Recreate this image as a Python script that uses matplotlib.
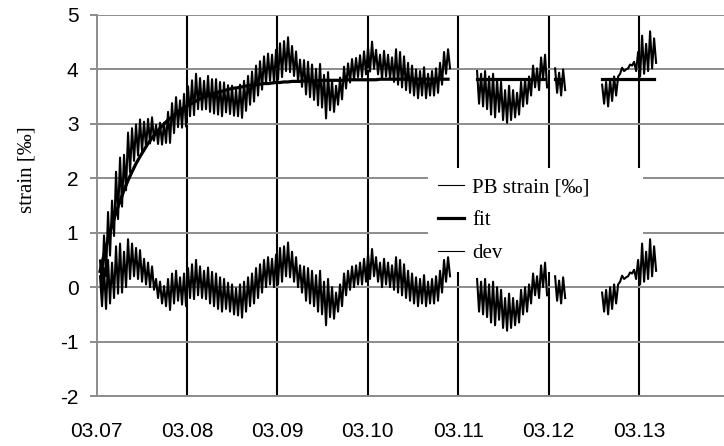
import numpy as np
import matplotlib.pyplot as plt

plt.rcParams['font.family'] = ['Liberation Sans', 'DejaVu Sans']
plt.rcParams['axes.unicode_minus'] = False

year_ticks = [2007, 2008, 2009, 2010, 2011, 2012, 2013]
year_labels = ['03.07', '03.08', '03.09', '03.10', '03.11', '03.12', '03.13']

# each measured stretch: time span (decimal years), upper / lower swing of
# the deviation from the fit, and the fit value at the same samples
seg1_span = (2007.039, 2010.910)
seg1_hi = [0.20, 0.35, 0.50, 0.45, 0.75, 0.80, 0.65, 0.88, 0.80, 0.72, 0.68, 0.52,
           0.45, 0.38, 0.15, 0.10, 0.02, 0.15, 0.25, 0.30, 0.18, 0.25, 0.35, 0.42,
           0.50, 0.38, 0.30, 0.36, 0.28, 0.25, 0.18, 0.15, 0.08, 0.05, -0.02, 0.05,
           0.10, 0.18, 0.25, 0.35, 0.42, 0.50, 0.55, 0.52, 0.60, 0.72, 0.75, 0.82,
           0.65, 0.55, 0.40, 0.38, 0.35, 0.30, 0.22, 0.30, 0.10, 0.15, 0.00, -0.10,
           0.05, 0.25, 0.30, 0.38, 0.40, 0.45, 0.52, 0.60, 0.70, 0.55, 0.45, 0.52,
           0.45, 0.40, 0.55, 0.50, 0.42, 0.30, 0.25, 0.18, 0.15, 0.22, 0.10, 0.15,
           0.20, 0.30, 0.50, 0.55]
seg1_lo = [-0.35, -0.40, -0.30, -0.20, -0.12, -0.10, 0.00, 0.15, 0.20, 0.15, 0.10, 0.05,
           0.00, -0.05, -0.20, -0.30, -0.35, -0.42, -0.30, -0.25, -0.32, -0.35, -0.20, -0.22,
           -0.15, -0.20, -0.22, -0.30, -0.35, -0.40, -0.45, -0.40, -0.45, -0.50, -0.52, -0.56,
           -0.45, -0.35, -0.30, -0.20, -0.10, 0.00, 0.05, 0.00, 0.05, 0.10, 0.20, 0.18,
           0.10, 0.00, -0.10, -0.25, -0.30, -0.35, -0.45, -0.50, -0.70, -0.55, -0.58, -0.45,
           -0.35, -0.15, -0.05, 0.00, 0.05, 0.05, 0.10, 0.15, 0.20, 0.10, 0.00, 0.05,
           0.00, -0.05, -0.10, -0.15, -0.20, -0.25, -0.30, -0.35, -0.30, -0.35, -0.30, -0.30,
           -0.25, -0.10, 0.10, 0.20]
seg1_fit = [0.29, 0.60, 0.88, 1.14, 1.37, 1.58, 1.78, 1.96, 2.12, 2.27, 2.40, 2.52,
            2.64, 2.74, 2.83, 2.92, 3.00, 3.07, 3.13, 3.19, 3.25, 3.30, 3.34, 3.38,
            3.42, 3.46, 3.49, 3.52, 3.54, 3.57, 3.59, 3.61, 3.63, 3.65, 3.66, 3.67,
            3.69, 3.70, 3.71, 3.72, 3.73, 3.74, 3.74, 3.75, 3.76, 3.76, 3.77, 3.77,
            3.78, 3.78, 3.78, 3.79, 3.79, 3.79, 3.79, 3.80, 3.80, 3.80, 3.80, 3.80,
            3.80, 3.80, 3.81, 3.81, 3.81, 3.81, 3.81, 3.81, 3.81, 3.81, 3.82, 3.82,
            3.82, 3.82, 3.82, 3.82, 3.82, 3.82, 3.82, 3.82, 3.82, 3.82, 3.82, 3.82,
            3.82, 3.82, 3.82, 3.82]

seg2_span = (2011.209, 2011.983)
seg2_hi = [0.15, 0.10, 0.15, 0.05, 0.10, 0.00, -0.05, -0.20, -0.12, -0.20, -0.25, -0.05,
           0.00, 0.05, 0.25, 0.20, 0.40, 0.45]
seg2_lo = [-0.45, -0.50, -0.55, -0.65, -0.70, -0.60, -0.75, -0.80, -0.75, -0.70, -0.65, -0.50,
           -0.45, -0.30, -0.15, -0.20, 0.00, -0.15]
seg2_fit = [3.82] * 18

seg3_span = (2012.072, 2012.183)
seg3_hi = [0.20, 0.12, 0.18]
seg3_lo = [-0.25, -0.30, -0.20]
seg3_fit = [3.82] * 3

seg4_span = (2012.592, 2013.189)
seg4_hi = [-0.10, -0.05, 0.00, 0.05, 0.05, 0.21, 0.18, 0.27, 0.32, 0.50, 0.80, 0.65, 0.88, 0.75]
seg4_lo = [-0.45, -0.50, -0.40, -0.30, 0.10, 0.15, 0.20, 0.25, 0.15, 0.05, 0.10, 0.15, 0.20, 0.30]
seg4_fit = [3.82] * 14

segments = [
    (seg1_span, seg1_hi, seg1_lo, seg1_fit),
    (seg2_span, seg2_hi, seg2_lo, seg2_fit),
    (seg3_span, seg3_hi, seg3_lo, seg3_fit),
    (seg4_span, seg4_hi, seg4_lo, seg4_fit),
]

fig = plt.figure(figsize=(7.24, 4.46), dpi=100)
ax = fig.add_axes([0.1333, 0.1121, 0.8667, 0.8543])

for i, (span, hi, lo, fit) in enumerate(segments):
    n = len(hi)
    tt = np.linspace(span[0], span[1], 2 * n)
    dev = np.empty(2 * n)
    dev[0::2] = hi
    dev[1::2] = lo
    strain = np.repeat(fit, 2) + dev
    ax.plot(tt, strain, color='black', lw=1.5, zorder=3)
    ax.plot(tt[0::2], fit, color='black', lw=2.3, zorder=4)
    ax.plot(tt, dev, color='black', lw=1.5, zorder=3)

# legend proxies with the line weights seen in the key
ax.plot([], [], color='black', lw=0.8, label='PB strain [‰]')
ax.plot([], [], color='black', lw=2.3, label='fit')
ax.plot([], [], color='black', lw=0.8, label='dev')

ax.set_xlim(2007, 2013.94)
ax.set_ylim(-2, 5)
ax.set_xticks(year_ticks, year_labels)
ax.set_yticks(range(-2, 6))

grey = '#8c8c8c'
ax.set_axisbelow(True)
ax.grid(axis='y', color=grey, lw=1.4)
ax.grid(axis='x', color='black', lw=1.5)
ax.get_xgridlines()[0].set_visible(False)

for side in ['top', 'right']:
    ax.spines[side].set_visible(False)
for side in ['left', 'bottom']:
    ax.spines[side].set_color(grey)
    ax.spines[side].set_linewidth(1.4)

ax.tick_params(axis='y', direction='out', length=5, width=1.4, color=grey,
               pad=8, labelsize=15)
ax.tick_params(axis='x', length=0, pad=19, labelsize=15)

ax.set_ylabel('strain [‰]', family=['Liberation Serif', 'DejaVu Serif'], fontsize=15)
ax.yaxis.set_label_coords(-0.095, 0.593)

leg = ax.legend(loc='upper left', bbox_to_anchor=(0.529, 0.598, 0.342, 0.0),
                mode='expand', frameon=True, facecolor='white', edgecolor='none',
                framealpha=1.0, fancybox=False, borderpad=0.45, borderaxespad=0.0,
                labelspacing=0.64, handlelength=1.25, handletextpad=0.4,
                prop={'family': ['Liberation Serif', 'DejaVu Serif'], 'size': 15})
# key box hides the grid but sits under the data
leg.set_zorder(2.5)

fig.savefig('out.png', dpi=100)
